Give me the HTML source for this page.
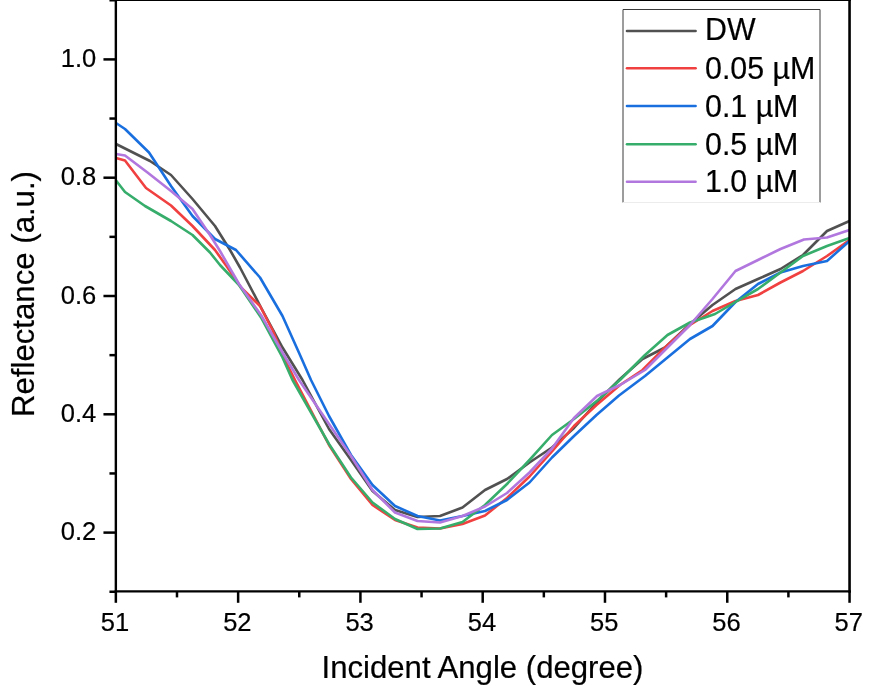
<!DOCTYPE html>
<html lang="en"><head><meta charset="utf-8"><title>Reflectance vs Incident Angle</title>
<style>html,body{margin:0;padding:0;background:#fff;}body{width:884px;height:685px;overflow:hidden;}svg{display:block;}text{font-family:"Liberation Sans",Arial,sans-serif;fill:#000;stroke:#000;stroke-width:0.2px;}</style></head><body>
<svg width="884" height="685" viewBox="0 0 884 685">
<rect width="884" height="685" fill="#fff"/>
<g fill="none" stroke-width="2.6" stroke-linejoin="round" stroke-linecap="butt">
<polyline stroke="#515151" points="116,144 150,161 171,175 192.5,199 215,226 230,250 240,267.5 261,307.5 282.5,347.5 302.5,380 329,429 351,460 372.5,491 395,510 417.5,517 440,516 462.5,507.5 485,490 507,479 529.5,462.5 552,447.5 574,428 596.5,402.5 620,379 642.5,359 665,347.5 690,324 712.5,305 735.5,289 758,279 780.5,269 803,255 827,231 849.5,221"/>
<polyline stroke="#F14040" points="116,158 125,160.5 146,188 171,205.5 192.5,226 215,250 227.5,267.5 241,287.5 260,306 272.5,330 285,360 295,380 329,445 351,479 372.5,505 395,520 417.5,527.5 440,528.5 462.5,524 485,515.5 507,498 529.5,476.5 552,451.5 574,426 596.5,405 620,385 642.5,370 665,347.5 690,325 712.5,311 735.5,301 758,295 780.5,282.5 803,271 827,256 849.5,240"/>
<polyline stroke="#1A6FDF" points="116,123 125,129 149,152.5 171,186 192.5,216 215,239 236,250 260,277.5 282.5,316 300,355 311,380 329,416 351,455 372.5,485 395,506 417.5,516 440,520.5 462.5,516 485,511 507,500 529.5,482.5 552,457.5 574,436 596.5,415 619,395.5 645,376 667.5,357.5 690,339 712.5,326 735.5,302 758,284 780.5,272.5 803,266 827,261 849.5,241"/>
<polyline stroke="#37AD6B" points="116,180.5 125,192 145,206 171,221 192.5,235 210,252.5 220,265 239,285 261,317.5 282.5,357.5 292.5,380 329,444 351,477.5 372.5,502.5 395,519 417.5,529 440,528.5 462.5,522 485,505 507,484 529.5,460 552,435 574,419 598,400 620,380 645,355 667.5,335 690,322.5 705,317.5 715,314 735.5,302 758,289 780.5,272.5 803,256 827,246 849.5,238"/>
<polyline stroke="#B177DE" points="116,154 125,155.5 147.5,172.5 171,191 192.5,209 210,235 220,251 239,284 261,315 282.5,352.5 299,380 329,424 351,456 372.5,490 395,512.5 417.5,521 440,522.5 462.5,516 485,506.5 507,493 529.5,472.5 552,448.5 574,418 597,396 620,385 645,370 667.5,347.5 690,325 712.5,299 735.5,271 758,260 780.5,249 804,239.5 827,237.5 849.5,230"/>
</g>
<rect x="623" y="9.5" width="197" height="193" fill="#fff" stroke="none"/>
<path d="M623,202.5 V9.5 H820 V202.5" fill="none" stroke="#3a3a3a" stroke-width="1"/>
<path d="M623,202.5 H820" fill="none" stroke="#ececec" stroke-width="1"/>
<line x1="627" x2="695.6" y1="31" y2="31" stroke="#515151" stroke-width="2.6" stroke-linecap="round"/>
<text x="705" y="40.3" font-size="31.2" textLength="50.6" lengthAdjust="spacingAndGlyphs">DW</text>
<line x1="627" x2="695.6" y1="68.3" y2="68.3" stroke="#F14040" stroke-width="2.6" stroke-linecap="round"/>
<text x="705" y="78.7" font-size="31.2" textLength="110.3" lengthAdjust="spacingAndGlyphs">0.05 µM</text>
<line x1="627" x2="695.6" y1="106" y2="106" stroke="#1A6FDF" stroke-width="2.6" stroke-linecap="round"/>
<text x="705" y="116.5" font-size="31.2" textLength="93.4" lengthAdjust="spacingAndGlyphs">0.1 µM</text>
<line x1="627" x2="695.6" y1="144.25" y2="144.25" stroke="#37AD6B" stroke-width="2.6" stroke-linecap="round"/>
<text x="705" y="154.6" font-size="31.2" textLength="93.4" lengthAdjust="spacingAndGlyphs">0.5 µM</text>
<line x1="627" x2="695.6" y1="181.75" y2="181.75" stroke="#B177DE" stroke-width="2.6" stroke-linecap="round"/>
<text x="705" y="192.1" font-size="31.2" textLength="93.4" lengthAdjust="spacingAndGlyphs">1.0 µM</text>
<g stroke="#000" fill="none">
<line x1="115.85" x2="115.85" y1="0" y2="592.6" stroke-width="2.4"/>
<line x1="849.55" x2="849.55" y1="0" y2="592.6" stroke-width="2.6"/>
<line x1="114.64999999999999" x2="850.8499999999999" y1="591.4" y2="591.4" stroke-width="2.4"/>
<line x1="114.64999999999999" x2="850.8499999999999" y1="-0.3" y2="-0.3" stroke-width="2.4"/>
<line x1="103.45" x2="115.85" y1="532.60" y2="532.60" stroke-width="2.5"/>
<line x1="103.45" x2="115.85" y1="414.30" y2="414.30" stroke-width="2.5"/>
<line x1="103.45" x2="115.85" y1="296.00" y2="296.00" stroke-width="2.5"/>
<line x1="103.45" x2="115.85" y1="177.70" y2="177.70" stroke-width="2.5"/>
<line x1="103.45" x2="115.85" y1="59.40" y2="59.40" stroke-width="2.5"/>
<line x1="109.45" x2="115.85" y1="591.75" y2="591.75" stroke-width="2.5"/>
<line x1="109.45" x2="115.85" y1="473.45" y2="473.45" stroke-width="2.5"/>
<line x1="109.45" x2="115.85" y1="355.15" y2="355.15" stroke-width="2.5"/>
<line x1="109.45" x2="115.85" y1="236.85" y2="236.85" stroke-width="2.5"/>
<line x1="109.45" x2="115.85" y1="118.55" y2="118.55" stroke-width="2.5"/>
<line x1="109.45" x2="115.85" y1="0.25" y2="0.25" stroke-width="2.5"/>
<line x1="115.85" x2="115.85" y1="591.4" y2="602.8" stroke-width="2.5"/>
<line x1="238.13" x2="238.13" y1="591.4" y2="602.8" stroke-width="2.5"/>
<line x1="360.42" x2="360.42" y1="591.4" y2="602.8" stroke-width="2.5"/>
<line x1="482.70" x2="482.70" y1="591.4" y2="602.8" stroke-width="2.5"/>
<line x1="604.98" x2="604.98" y1="591.4" y2="602.8" stroke-width="2.5"/>
<line x1="727.27" x2="727.27" y1="591.4" y2="602.8" stroke-width="2.5"/>
<line x1="849.55" x2="849.55" y1="591.4" y2="602.8" stroke-width="2.5"/>
<line x1="176.99" x2="176.99" y1="591.4" y2="597.4" stroke-width="2.5"/>
<line x1="299.27" x2="299.27" y1="591.4" y2="597.4" stroke-width="2.5"/>
<line x1="421.56" x2="421.56" y1="591.4" y2="597.4" stroke-width="2.5"/>
<line x1="543.84" x2="543.84" y1="591.4" y2="597.4" stroke-width="2.5"/>
<line x1="666.12" x2="666.12" y1="591.4" y2="597.4" stroke-width="2.5"/>
<line x1="788.41" x2="788.41" y1="591.4" y2="597.4" stroke-width="2.5"/>
</g>
<text x="60.7" y="540.20" font-size="26.4" textLength="35.5" lengthAdjust="spacingAndGlyphs">0.2</text>
<text x="60.7" y="421.90" font-size="26.4" textLength="35.5" lengthAdjust="spacingAndGlyphs">0.4</text>
<text x="60.7" y="303.60" font-size="26.4" textLength="35.5" lengthAdjust="spacingAndGlyphs">0.6</text>
<text x="60.7" y="185.30" font-size="26.4" textLength="35.5" lengthAdjust="spacingAndGlyphs">0.8</text>
<text x="60.7" y="67.00" font-size="26.4" textLength="35.5" lengthAdjust="spacingAndGlyphs">1.0</text>
<text x="100.85" y="631" font-size="26.4" textLength="28.4" lengthAdjust="spacingAndGlyphs">51</text>
<text x="223.13" y="631" font-size="26.4" textLength="28.4" lengthAdjust="spacingAndGlyphs">52</text>
<text x="345.42" y="631" font-size="26.4" textLength="28.4" lengthAdjust="spacingAndGlyphs">53</text>
<text x="467.70" y="631" font-size="26.4" textLength="28.4" lengthAdjust="spacingAndGlyphs">54</text>
<text x="589.98" y="631" font-size="26.4" textLength="28.4" lengthAdjust="spacingAndGlyphs">55</text>
<text x="712.27" y="631" font-size="26.4" textLength="28.4" lengthAdjust="spacingAndGlyphs">56</text>
<text x="834.55" y="631" font-size="26.4" textLength="28.4" lengthAdjust="spacingAndGlyphs">57</text>
<text x="321.5" y="678.3" font-size="30.5" textLength="322" lengthAdjust="spacingAndGlyphs">Incident Angle (degree)</text>
<text transform="translate(33.9,417) rotate(-90)" font-size="31.2" textLength="246" lengthAdjust="spacingAndGlyphs">Reflectance (a.u.)</text>
</svg></body></html>
